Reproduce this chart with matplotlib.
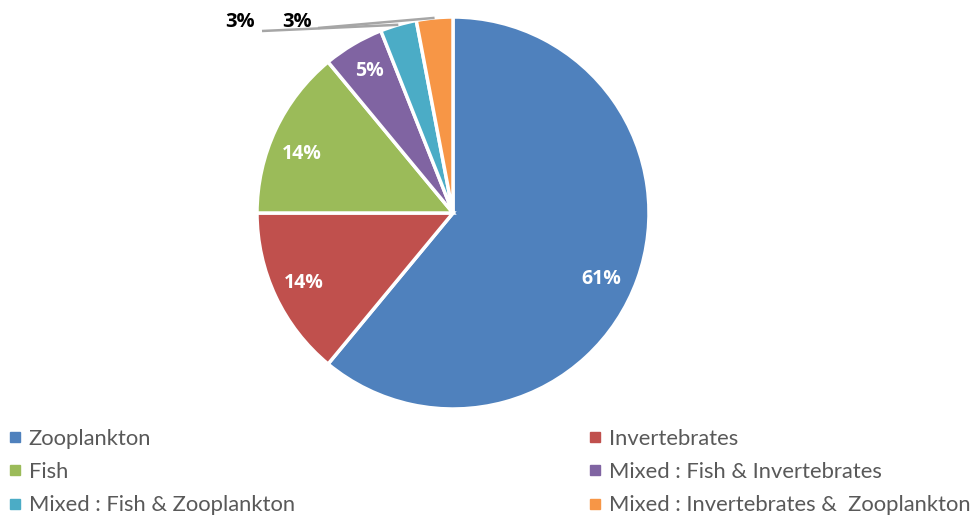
import matplotlib
matplotlib.use("Agg")
import matplotlib.pyplot as plt
from matplotlib.lines import Line2D
import numpy as np

# Diet composition (percent of species)
categories = ["Zooplankton", "Invertebrates", "Fish",
              "Mixed : Fish & Invertebrates", "Mixed : Fish & Zooplankton",
              "Mixed : Invertebrates &  Zooplankton"]
values = [61, 14, 14, 5, 3, 3]
colors = ["#4F81BD", "#C0504D", "#9BBB59", "#8064A2", "#4BACC6", "#F79646"]

FONT = "Lato"
BOLD_FONT = "Open Sans"
W, H = 978, 518
fig = plt.figure(figsize=(W / 100, H / 100), dpi=100)
ax = fig.add_axes([0, 0, 1, 1])

cx, cy, R = 453, H - 213, 196


def fmt(p):
    return f"{round(p)}%" if p >= 4 else ""


wedges, _, autotexts = ax.pie(
    values, colors=colors, startangle=90, counterclock=False,
    center=(cx, cy), radius=R, autopct=fmt, pctdistance=0.84,
    wedgeprops=dict(edgecolor="white", linewidth=2.5),
    textprops=dict(color="white", fontsize=14, fontweight="bold",
                   family=BOLD_FONT),
)

# Small nudges of the inside labels (pixels: dx, dy)
nudges = {0: (-7, -10), 2: (-2, -11)}
for i, (dx, dy) in nudges.items():
    x, y = autotexts[i].get_position()
    autotexts[i].set_position((x + dx, y + dy))

# Outside labels with leader lines for the two smallest slices
outside = [(4, (240, 22), (262, 31)), (5, (297, 22), (318, 28))]
for idx, (tx, ty), (sx, sy) in outside:
    w = wedges[idx]
    mid = np.deg2rad((w.theta1 + w.theta2) / 2)
    ex, ey = cx + R * np.cos(mid), cy + R * np.sin(mid)
    ax.plot([sx, ex], [H - sy, ey], color="#a6a6a6", lw=1.8,
            solid_capstyle="butt", zorder=5)
    ax.text(tx, H - ty, f"{values[idx]}%", ha="center", va="center",
            fontsize=14.5, fontweight="bold", color="black", family=BOLD_FONT)

ax.set_xlim(0, W)
ax.set_ylim(0, H)
ax.set_aspect("equal")
ax.axis("off")


# Legend in two columns
def handle(c):
    return Line2D([], [], marker="s", linestyle="none", markersize=6.5,
                  markerfacecolor=c, markeredgecolor=c)


legend_kw = dict(frameon=False, handlelength=0.4,
                 handletextpad=0.4, labelspacing=0.6, borderpad=0,
                 borderaxespad=0, labelcolor="#595959",
                 prop=dict(family=FONT, size=15.8))
left_idx = [0, 2, 4]
right_idx = [1, 3, 5]
leg1 = ax.legend([handle(colors[i]) for i in left_idx],
                 [categories[i] for i in left_idx],
                 loc="upper left", bbox_to_anchor=(11 / W, 1 - 429 / H),
                 bbox_transform=fig.transFigure, **legend_kw)
ax.add_artist(leg1)
ax.legend([handle(colors[i]) for i in right_idx],
          [categories[i] for i in right_idx],
          loc="upper left", bbox_to_anchor=(591 / W, 1 - 429 / H),
          bbox_transform=fig.transFigure, **legend_kw)

fig.savefig("out.png", dpi=100)
